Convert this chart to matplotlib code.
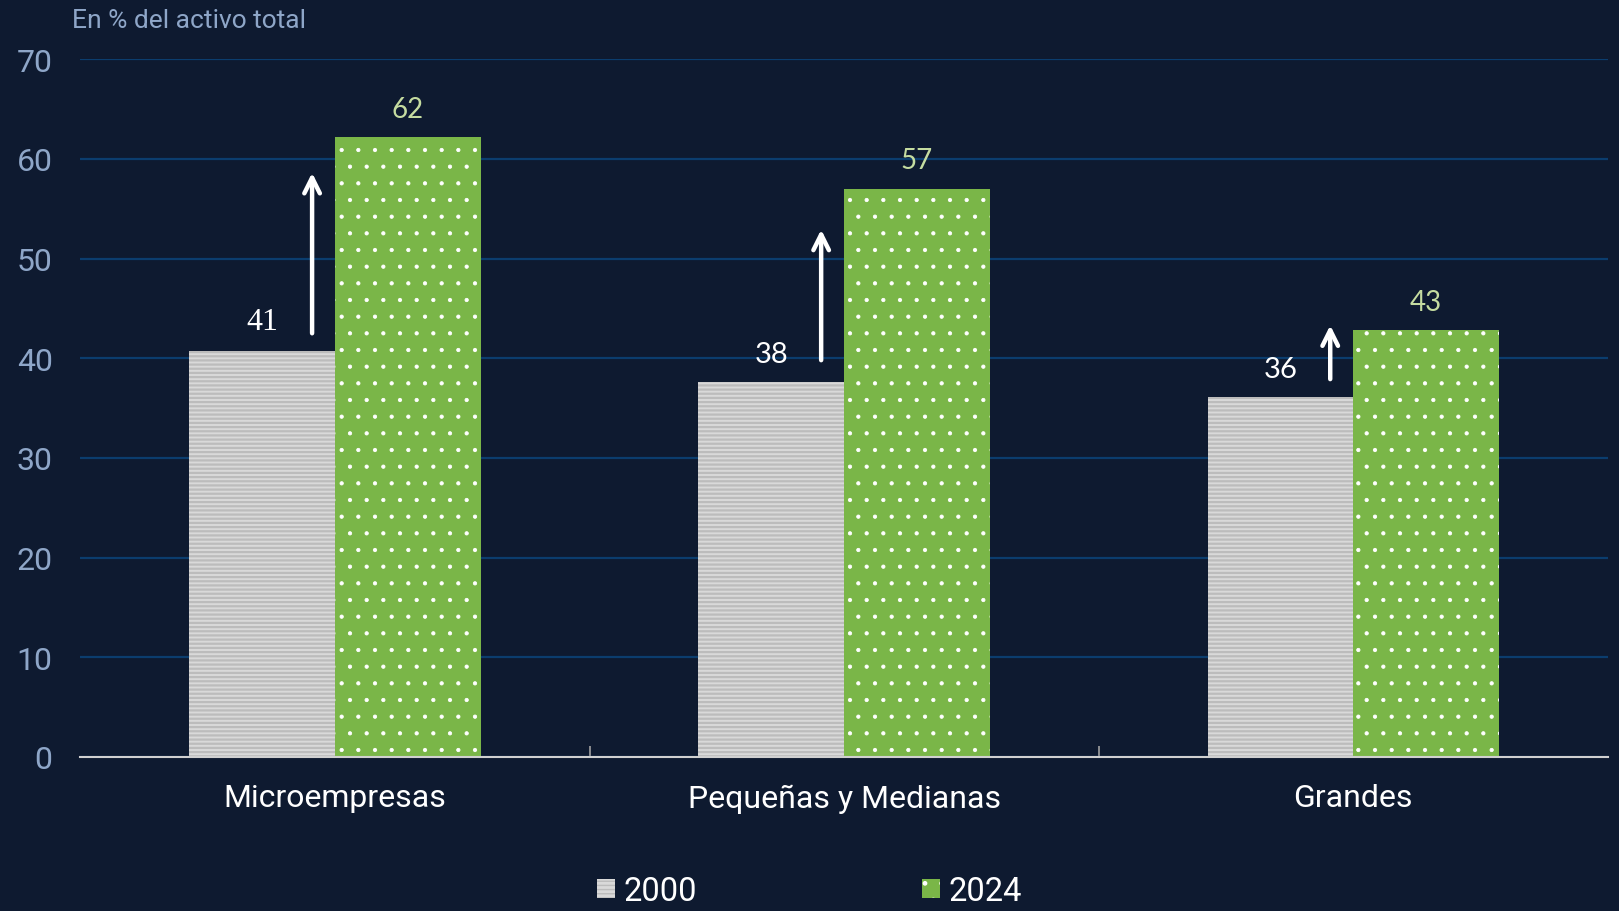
import matplotlib
matplotlib.use("Agg")
import matplotlib.pyplot as plt
import numpy as np

categories = ["Microempresas", "Pequeñas y Medianas", "Grandes"]
years = ["2000", "2024"]
vals_2000 = [40.7, 37.6, 36.1]
vals_2024 = [62.2, 57.0, 42.8]
labels_2000 = ["41", "38", "36"]
labels_2024 = ["62", "57", "43"]
# arrow start / end (in % units)
arrow_lo = [42.5, 39.8, 37.9]
arrow_hi = [58.6, 52.9, 43.3]

BG = "#0e1a30"
GRID = "#0b3d6e"
TICK = "#8ea6c8"

plt.rcParams["font.family"] = ["Roboto", "DejaVu Sans"]

fig = plt.figure(figsize=(16.19, 9.12), dpi=100, facecolor=BG)
ax = fig.add_axes([0.0497, 0.169, 0.9433, 0.765])
ax.set_facecolor(BG)

x = np.arange(len(categories))
w = 0.286

# hatch colour follows the edge colour; hatch width set per bar group
with plt.rc_context({"hatch.linewidth": 1.6}):
    b1 = ax.bar(x - w / 2, vals_2000, w, color="#d9d9d9", edgecolor="#bcbcbc",
                hatch="----", linewidth=0, label=years[0], zorder=3)
with plt.rc_context({"hatch.linewidth": 0.6}):
    b2 = ax.bar(x + w / 2, vals_2024, w, color="#7ab648", edgecolor="white",
                hatch=".", linewidth=0, label=years[1], zorder=3)
for bars, hw in ((b1, 1.6), (b2, 0.6)):
    for p in bars:
        if hasattr(p, "set_hatch_linewidth"):
            p.set_hatch_linewidth(hw)

# value labels and arrows
for i in range(len(categories)):
    if i == 0:
        fam, fs = ["Liberation Serif"], 23
    else:
        fam, fs = ["Lato", "DejaVu Sans"], 21
    ax.annotate(labels_2000[i], (x[i] - w / 2, vals_2000[i]), xytext=(0, 11),
                textcoords="offset points", ha="center", va="bottom",
                color="white", fontsize=fs, family=fam)
    ax.annotate(labels_2024[i], (x[i] + w / 2, vals_2024[i]), xytext=(0, 11),
                textcoords="offset points", ha="center", va="bottom",
                color="#c5dca0", fontsize=20, family=["Lato", "DejaVu Sans"])
    ax.annotate("", xy=(x[i] - 0.045, arrow_hi[i]), xytext=(x[i] - 0.045, arrow_lo[i]),
                arrowprops=dict(arrowstyle="->", color="white", lw=3.2,
                                mutation_scale=28, shrinkA=0, shrinkB=0), zorder=4)

ax.set_xlim(-0.5, 2.5)
ax.set_ylim(0, 70)
ax.set_yticks(range(0, 71, 10))
ax.grid(axis="y", color=GRID, lw=1.6, zorder=0)
ax.tick_params(axis="y", length=0, pad=20, labelsize=23, labelcolor=TICK)

ax.set_xticks([0.5, 1.5])
ax.set_xticklabels([])
ax.tick_params(axis="x", which="major", direction="in", length=8, color="#a0a0a0", width=1.2)
ax.set_xticks(x, minor=True)
ax.set_xticklabels(categories, minor=True)
ax.tick_params(axis="x", which="minor", length=0, pad=19, labelsize=23, labelcolor="white")

for s in ["top", "right", "left"]:
    ax.spines[s].set_visible(False)
ax.spines["bottom"].set_color("#d0d0d0")
ax.spines["bottom"].set_linewidth(1.5)
ax.spines["bottom"].set_zorder(5)

fig.text(0.0445, 1 - 21 / 912, "En % del activo total", color=TICK, fontsize=19,
         va="center", ha="left")

fig.legend(handles=[b1, b2], loc="center", bbox_to_anchor=(0.5, 1 - 892 / 912),
           ncol=2, frameon=False, fontsize=23.5, labelcolor="white",
           handlelength=0.55, handleheight=0.55, handletextpad=0.25,
           columnspacing=6.9)

fig.savefig("out.png", dpi=100, facecolor=BG)
